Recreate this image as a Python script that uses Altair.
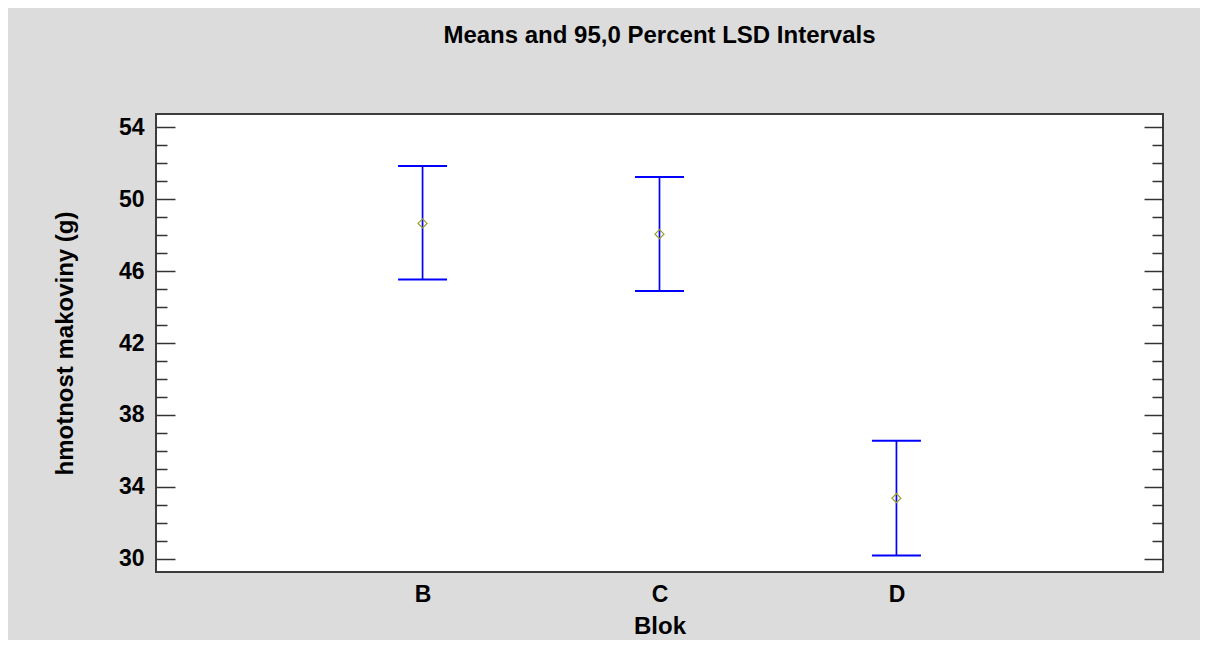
import altair as alt
import pandas as pd

categories = ["B", "C", "D"]
means = [48.66, 48.06, 33.36]
lower = [45.54, 44.89, 30.17]
upper = [51.86, 51.24, 36.56]

label_ticks = [30, 34, 38, 42, 46, 50, 54]
all_ticks = list(range(30, 55))

df = pd.DataFrame({"Blok": categories, "mean": means, "lower": lower, "upper": upper})

FONT = "Liberation Sans"
W, H = 1007, 458
STEP = W / 4.25
yscale = alt.Scale(domain=[29.25, 54.75], nice=False, zero=False)
xscale = alt.Scale(type="point", padding=0, range=[1.125 * STEP, W - 1.125 * STEP])
tick_size = {"condition": {"test": "datum.value % 4 === 2", "value": 19}, "value": 11}

xaxis = alt.Axis(
    title="Blok", labelAngle=0, ticks=False, tickSize=0, domain=False, grid=False,
    labelFont=FONT, labelFontSize=23, labelFontWeight="bold", labelColor="black",
    labelPadding=11, titleFont=FONT, titleFontSize=24, titleFontWeight="bold",
    titleColor="black", titleX=W / 2, titleY=61, titleBaseline="alphabetic",
)

base = alt.Chart(df).encode(
    x=alt.X("Blok:N", sort=categories, scale=xscale, axis=xaxis)
)

yaxis_labels = alt.Axis(
    values=label_ticks, ticks=False, tickSize=0, domain=False, grid=False,
    labelFont=FONT, labelFontSize=23, labelFontWeight="bold", labelColor="black",
    labelPadding=12, title="hmotnost makoviny (g)", titleFont=FONT, titleFontSize=24,
    titleFontWeight="bold", titleColor="black", titleX=-91, titleBaseline="middle",
)
yaxis_left_ticks = alt.Axis(
    orient="right", offset=-W, values=all_ticks, labels=False, domain=False, grid=False,
    title=None, tickSize=tick_size, tickColor="#333333", tickWidth=1.5,
)
yaxis_right_ticks = alt.Axis(
    orient="left", offset=-W, values=all_ticks, labels=False, domain=False, grid=False,
    title=None, tickSize=tick_size, tickColor="#333333", tickWidth=1.5,
)

rule = base.mark_rule(color="#0000ff", strokeWidth=1.7).encode(
    y=alt.Y("lower:Q", scale=yscale, axis=yaxis_labels), y2="upper:Q"
)
cap_u = base.mark_tick(color="#0000ff", thickness=2, size=49, opacity=1).encode(
    y=alt.Y("upper:Q", scale=yscale, axis=yaxis_left_ticks)
)
cap_l = base.mark_tick(color="#0000ff", thickness=2, size=49, opacity=1).encode(
    y=alt.Y("lower:Q", scale=yscale, axis=yaxis_right_ticks)
)
pts = base.mark_point(shape="diamond", filled=False, color="#9c9c2e", size=80, strokeWidth=1.2, opacity=1).encode(
    y=alt.Y("mean:Q", scale=yscale, axis=None)
)

chart = (
    alt.layer(rule, cap_u, cap_l, pts)
    .resolve_axis(y="independent")
    .properties(
        width=W, height=H,
        title=alt.TitleParams(
            "Means and 95,0 Percent LSD Intervals", anchor="middle", frame="group",
            font=FONT, fontSize=24, fontWeight="bold", color="black", offset=66,
        ),
        autosize=alt.AutoSizeParams(type="none"),
        padding={"left": 148, "top": 106, "right": 37, "bottom": 68},
        background="#dcdcdc",
    )
    .configure_view(fill="white", stroke="#3c3c3c", strokeWidth=2)
)

chart.save("out.html", embed_options={"renderer": "svg", "actions": False})
